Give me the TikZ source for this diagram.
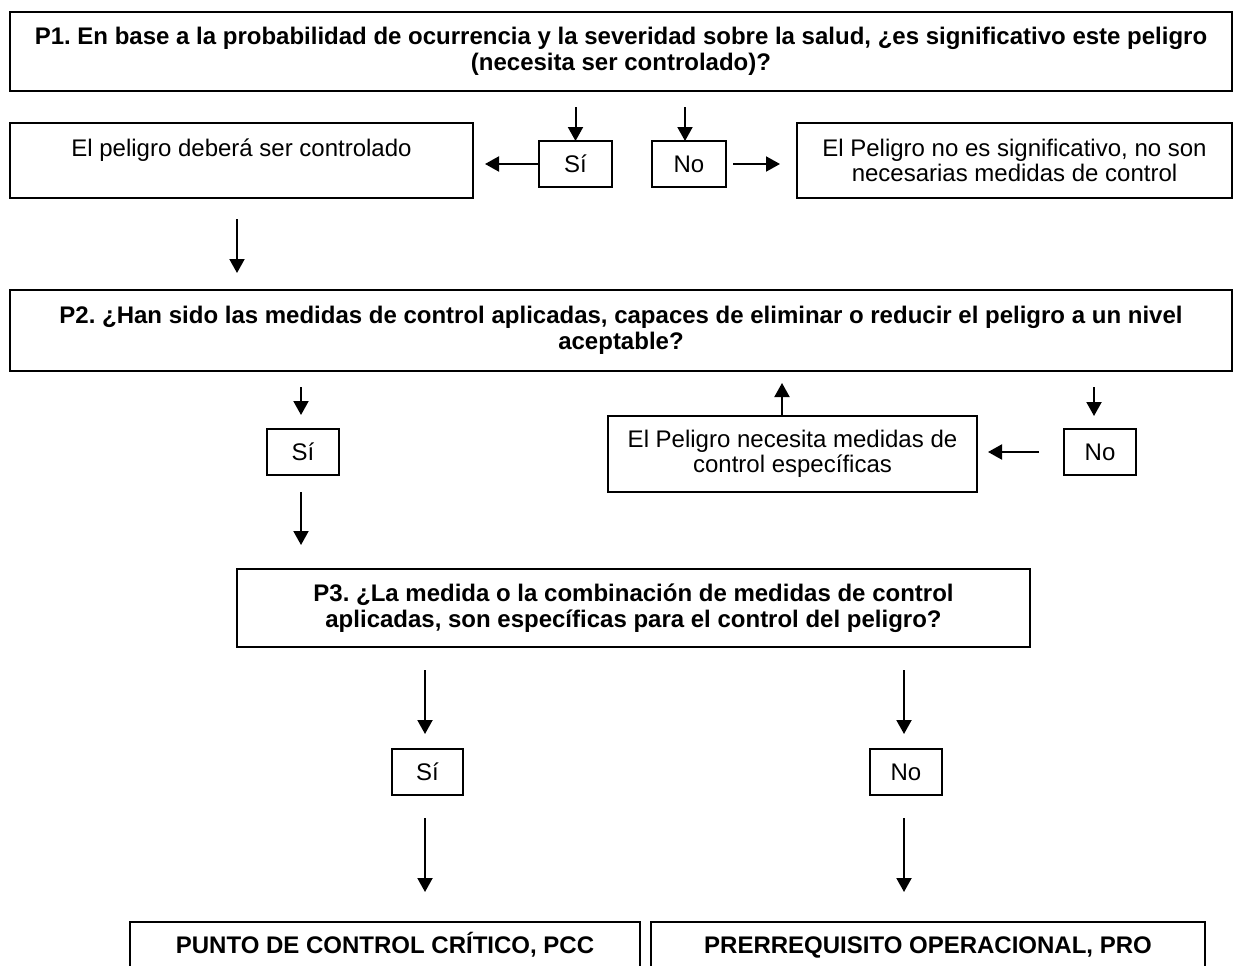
\documentclass[tikz,border=0pt]{standalone}
\usepackage{fontspec}
\setmainfont{Liberation Sans}
\usetikzlibrary{arrows.meta,calc}
\frenchspacing
\begin{document}
\begin{tikzpicture}[x=1pt,y=-1pt,
  every node/.style={font=\fontsize{24}{25}\selectfont\frenchspacing, align=center, inner sep=0pt, outer sep=0pt},
  bigbox/.style={draw, line width=2.3pt, anchor=north west, font=\fontsize{24}{25.5}\selectfont\bfseries\frenchspacing},
  textbox/.style={draw, line width=1.6pt, anchor=north west},
  ansbox/.style={draw, line width=1.4pt, anchor=north west, minimum width=72pt, minimum height=46pt},
  endbox/.style={draw, line width=2pt, anchor=north west, text height=31.5pt, text depth=50pt, font=\fontsize{24}{25}\selectfont\bfseries\frenchspacing},
  arr/.style={-{Triangle[width=15pt,length=14pt]}, line width=2pt}]
\useasboundingbox (0,0) rectangle (1242,966);
\clip (0,0) rectangle (1242,966);
\fill[white] (0,0) rectangle (1242,966);
% boxes
\node[bigbox, minimum width=1222pt, minimum height=79pt] (p1) at (10,12)
  {P1. En base a la probabilidad de ocurrencia y la severidad sobre la salud, ¿es significativo este peligro\\(necesita ser controlado)?};
\node[textbox, minimum width=463pt, text height=33pt, text depth=42pt] (b1) at (10,123)
  {El peligro deberá ser controlado};
\node[ansbox, minimum width=73pt] (si1) at (539,141) {Sí};
\node[ansbox, minimum width=74pt] (no1) at (652,141) {No};
\node[textbox, minimum width=435pt, minimum height=75pt] (b2) at (797,123)
  {El Peligro no es significativo, no son\\necesarias medidas de control};
\node[bigbox, minimum width=1222pt, minimum height=81pt] (p2) at (10,290)
  {P2. ¿Han sido las medidas de control aplicadas, capaces de eliminar o reducir el peligro a un nivel\\aceptable?};
\node[ansbox] (si2) at (267,429) {Sí};
\node[textbox, minimum width=369pt, minimum height=76pt] (nec) at (608,416)
  {El Peligro necesita medidas de\\control específicas};
\node[ansbox] (no2) at (1064,429) {No};
\node[bigbox, minimum width=793pt, minimum height=78pt] (p3) at (237,569)
  {P3. ¿La medida o la combinación de medidas de control\\aplicadas, son específicas para el control del peligro?};
\node[ansbox, minimum width=71pt] (si3) at (392,749) {Sí};
\node[ansbox] (no3) at (870,749) {No};
\node[endbox, minimum width=510pt] (pcc) at (130,922) {PUNTO DE CONTROL CRÍTICO, PCC};
\node[endbox, minimum width=554pt] (pro) at (651,922) {PRERREQUISITO OPERACIONAL, PRO};
% arrows
\draw[arr] ([yshift=34pt]si1.north) -- (si1.north);
\draw[arr] ([xshift=-4pt,yshift=34pt]no1.north) -- ([xshift=-4pt]no1.north);
\draw[arr, shorten >=12pt] (si1.west) -- (si1.west -| b1.east);
\draw[arr, shorten <=7pt, shorten >=17pt] (no1.east) -- (no1.east -| b2.west);
\draw[arr, shorten <=21pt, shorten >=17pt] ([xshift=-4.5pt]b1.south) -- ([xshift=-4.5pt]b1.south |- p2.north);
\draw[arr, shorten >=14pt] ([xshift=-2pt,yshift=42pt]si2.north) -- ([xshift=-2pt]si2.north);
\draw[arr, shorten <=17pt, shorten >=24pt] ([xshift=-2pt]si2.south) -- ([xshift=-2pt]si2.south |- p3.north);
\draw[arr, shorten >=13pt] ([xshift=-6pt,yshift=42pt]no2.north) -- ([xshift=-6pt]no2.north);
\draw[arr, shorten <=25pt, shorten >=11pt] (no2.west) -- (no2.west -| nec.east);
\draw[arr, shorten >=12pt] ([xshift=-10.5pt]nec.north) -- ([xshift=-10.5pt]nec.north |- p2.south);
\draw[arr, shorten <=23pt, shorten >=15pt] ([xshift=-2.5pt]si3.north |- p3.south) -- ([xshift=-2.5pt]si3.north);
\draw[arr, shorten <=23pt, shorten >=15pt] ([xshift=-2pt]no3.north |- p3.south) -- ([xshift=-2pt]no3.north);
\draw[arr, shorten <=23pt, shorten >=30pt] ([xshift=-2.5pt]si3.south) -- ([xshift=-2.5pt]si3.south |- pcc.north);
\draw[arr, shorten <=23pt, shorten >=30pt] ([xshift=-2pt]no3.south) -- ([xshift=-2pt]no3.south |- pro.north);
\end{tikzpicture}
\end{document}
